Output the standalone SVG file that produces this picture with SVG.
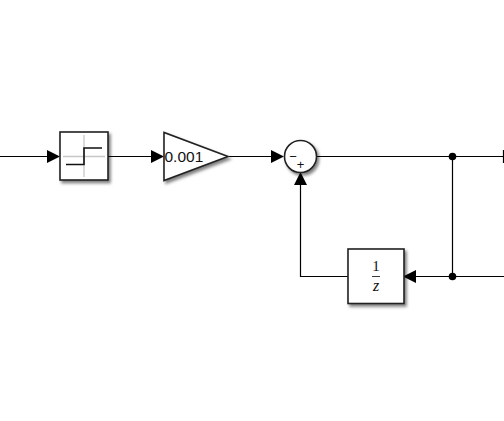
<svg xmlns="http://www.w3.org/2000/svg" width="504" height="421" viewBox="0 0 504 421">
<defs>
<filter id="sh" x="-20%" y="-20%" width="150%" height="150%"><feDropShadow dx="2" dy="2.500" stdDeviation="1.800" flood-color="#000" flood-opacity="0.5"/></filter>
</defs>
<style>
.b{fill:#fff;stroke:#222;stroke-width:1.6;filter:url(#sh)}
.w{fill:none;stroke:#000;stroke-width:1.2}
.a{fill:#000;stroke:none}
.t{font-family:"Liberation Sans",Arial,sans-serif;fill:#111}
.s{font-family:"Liberation Serif","Times New Roman",serif;fill:#111;text-anchor:middle}
</style>
<rect width="504" height="421" fill="#fff"/>
<g id="connectors">
<path class="w" d="M0 156.500H48M108 156.500H152M228 156.500H272M316 156.500H504M452.500 156.500V276.500M504 276.500H416M348 276.500H300.500V184"/>
<path class="a" d="M47 150L60 156.500L47 163ZM151 150L164 156.500L151 163ZM271 150L284 156.500L271 163ZM416 270L403 276.500L416 283ZM294 185L300.500 172L307 185Z"/>
<path d="M503.500 150V163" stroke="#000" stroke-width="1.200" fill="none"/>
<circle cx="452.500" cy="156.500" r="3.800" class="a"/>
<circle cx="452.500" cy="276.500" r="3.800" class="a"/>
</g>
<g id="saturation">
<rect class="b" x="60" y="132" width="48" height="48"/>
<path d="M84 135V177M63 156.500H105" stroke="#c8c8c8" stroke-width="1.300" fill="none"/>
<path d="M66 164.500H84V148H102" stroke="#111" stroke-width="1.600" fill="none"/>
</g>
<g id="gain">
<path class="b" d="M164 132.500V180.500L228 156.500Z"/>
<text class="t" x="164.500" y="162" font-size="15.500">0.001</text>
</g>
<g id="sum">
<circle class="b" cx="300.500" cy="156.500" r="16"/>
<text class="t" x="293" y="160.500" font-size="13" text-anchor="middle">−</text>
<text class="t" x="300.500" y="169" font-size="13" text-anchor="middle">+</text>
</g>
<g id="delay">
<rect class="b" x="348" y="249" width="56" height="54.500"/>
<text class="s" x="376" y="270.500" font-size="15">1</text>
<path d="M372 276.500H380" stroke="#222" stroke-width="0.900"/>
<text class="s" x="376" y="291" font-size="16" font-style="italic">z</text>
</g>
</svg>
